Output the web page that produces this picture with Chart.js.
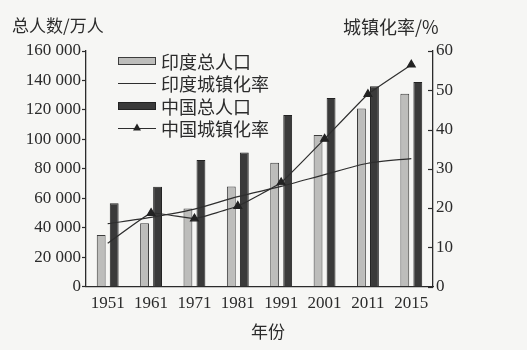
<!DOCTYPE html>
<html lang="zh">
<head>
<meta charset="UTF-8">
<title>印度与中国人口及城镇化率</title>
<script src="https://cdn.jsdelivr.net/npm/chart.js"></script>
<style>
  html, body { margin: 0; padding: 0; background: #f6f6f4; }
  #wrap { position: relative; width: 527px; height: 350px; }
</style>
</head>
<body>
<div id="wrap"><canvas id="chart" width="527" height="350"></canvas></div>
<script>
const years = ['1951', '1961', '1971', '1981', '1991', '2001', '2011', '2015'];
const indiaPop = [35000, 43000, 53000, 68000, 84000, 103000, 121000, 131000];
const chinaPop = [56500, 67800, 86000, 91000, 116500, 128000, 136000, 139000];
const indiaRate = [16, 17.6, 19.7, 22.9, 25.5, 28.5, 31.4, 32.6];
const chinaRate = [11, 18.7, 17.3, 20.5, 26.5, 37.6, 49, 56.5];
const leftTitle = '总人数/万人';
const rightTitle = '城镇化率/%';
const xTitle = '年份';

const serif = '"Liberation Serif", "DejaVu Serif", serif';
const cjk = '"Noto Sans CJK SC", sans-serif';
const ink = '#2b2b2b';

// labels drawn outside the chart area + legend inside it
const extras = {
  id: 'extras',
  afterDraw(chart) {
    const ctx = chart.ctx, a = chart.chartArea;
    ctx.save();
    ctx.fillStyle = ink;
    ctx.font = '17px ' + cjk;
    ctx.textBaseline = 'middle';
    ctx.textAlign = 'left';
    ctx.fillText(leftTitle, 12, 26);
    ctx.font = '18px ' + cjk;
    ctx.fillText(rightTitle, 343, 27);
    ctx.font = '17px ' + cjk;
    ctx.textAlign = 'center';
    ctx.fillText(xTitle, 268, 332);

    // inward ticks on the right axis
    const y1 = chart.scales.y1;
    ctx.strokeStyle = ink;
    ctx.lineWidth = 1.2;
    y1.ticks.forEach(t => {
      const py = Math.round(y1.getPixelForValue(t.value)) + 0.5;
      ctx.beginPath();
      ctx.moveTo(a.right - 5, py);
      ctx.lineTo(a.right, py);
      ctx.stroke();
    });

    // legend
    const lx = a.left + 32, ly = a.top + 10, gap = 22.5, sw = 38;
    ctx.textAlign = 'left';
    ctx.font = '18px ' + cjk;
    chart.data.datasets.forEach((ds, i) => {
      const cy = ly + i * gap;
      if (ds.type === 'bar') {
        ctx.fillStyle = ds.backgroundColor;
        ctx.fillRect(lx, cy - 3.5, sw, 7);
        ctx.strokeStyle = ds.borderColor;
        ctx.lineWidth = 1;
        ctx.strokeRect(lx + 0.5, cy - 3.5, sw - 1, 7);
      } else {
        ctx.strokeStyle = ds.borderColor;
        ctx.lineWidth = 1.2;
        ctx.beginPath();
        ctx.moveTo(lx, cy);
        ctx.lineTo(lx + sw, cy);
        ctx.stroke();
        if (ds.pointStyle === 'triangle') {
          const cx = lx + sw / 2;
          ctx.fillStyle = ds.pointBackgroundColor;
          ctx.beginPath();
          ctx.moveTo(cx, cy - 5);
          ctx.lineTo(cx - 4, cy + 2);
          ctx.lineTo(cx + 4, cy + 2);
          ctx.closePath();
          ctx.fill();
        }
      }
      ctx.fillStyle = ink;
      ctx.fillText(ds.label, lx + sw + 5, cy + 1);
    });
    ctx.restore();
  }
};

new Chart(document.getElementById('chart'), {
  data: {
    labels: years,
    datasets: [
      {
        type: 'bar', label: '印度总人口', data: indiaPop, yAxisID: 'y',
        backgroundColor: '#bdbdbb', borderColor: '#3c3c3c', borderWidth: 1,
        categoryPercentage: 0.6, barPercentage: 0.68, order: 2
      },
      {
        type: 'line', label: '印度城镇化率', data: indiaRate, yAxisID: 'y1',
        borderColor: '#2e2e2e', borderWidth: 1.2, pointRadius: 0,
        tension: 0.25, order: 0
      },
      {
        type: 'bar', label: '中国总人口', data: chinaPop, yAxisID: 'y',
        backgroundColor: '#3a3a3a', borderColor: '#222', borderWidth: 1,
        categoryPercentage: 0.6, barPercentage: 0.68, order: 2
      },
      {
        type: 'line', label: '中国城镇化率', data: chinaRate, yAxisID: 'y1',
        borderColor: '#2e2e2e', borderWidth: 1.2,
        pointStyle: 'triangle', pointRadius: [0, 4.5, 4.5, 4.5, 4.5, 4.5, 4.5, 4.5],
        pointBackgroundColor: '#222', pointBorderColor: '#222',
        tension: 0.1, order: 1
      }
    ]
  },
  options: {
    responsive: false,
    animation: false,
    layout: { padding: { top: 51, left: 0, right: 0, bottom: 0 } },
    plugins: { legend: { display: false }, tooltip: { enabled: false } },
    scales: {
      x: {
        grid: { display: false, drawTicks: false },
        border: { display: true, color: ink, width: 1.3 },
        ticks: { color: ink, font: { family: serif, size: 17 }, padding: 7, maxRotation: 0 },
        afterFit(s) { s.height = 63.5; }
      },
      y: {
        position: 'left', min: 0, max: 160000,
        grid: { drawOnChartArea: false, tickLength: 4, color: ink, tickWidth: 1.2 },
        border: { color: ink, width: 1.3 },
        ticks: {
          stepSize: 20000, color: ink, padding: 1,
          font: { family: serif, size: 17 },
          callback: v => String(v).replace(/\B(?=(\d{3})+(?!\d))/g, ' ')
        },
        afterFit(s) { s.width = 86; }
      },
      y1: {
        position: 'right', min: 0, max: 60,
        grid: { drawOnChartArea: false, drawTicks: false },
        border: { color: ink, width: 1.3 },
        ticks: { stepSize: 10, color: ink, padding: 3, font: { family: serif, size: 17 } },
        afterFit(s) { s.width = 94; }
      }
    }
  },
  plugins: [extras]
});
</script>
</body>
</html>
